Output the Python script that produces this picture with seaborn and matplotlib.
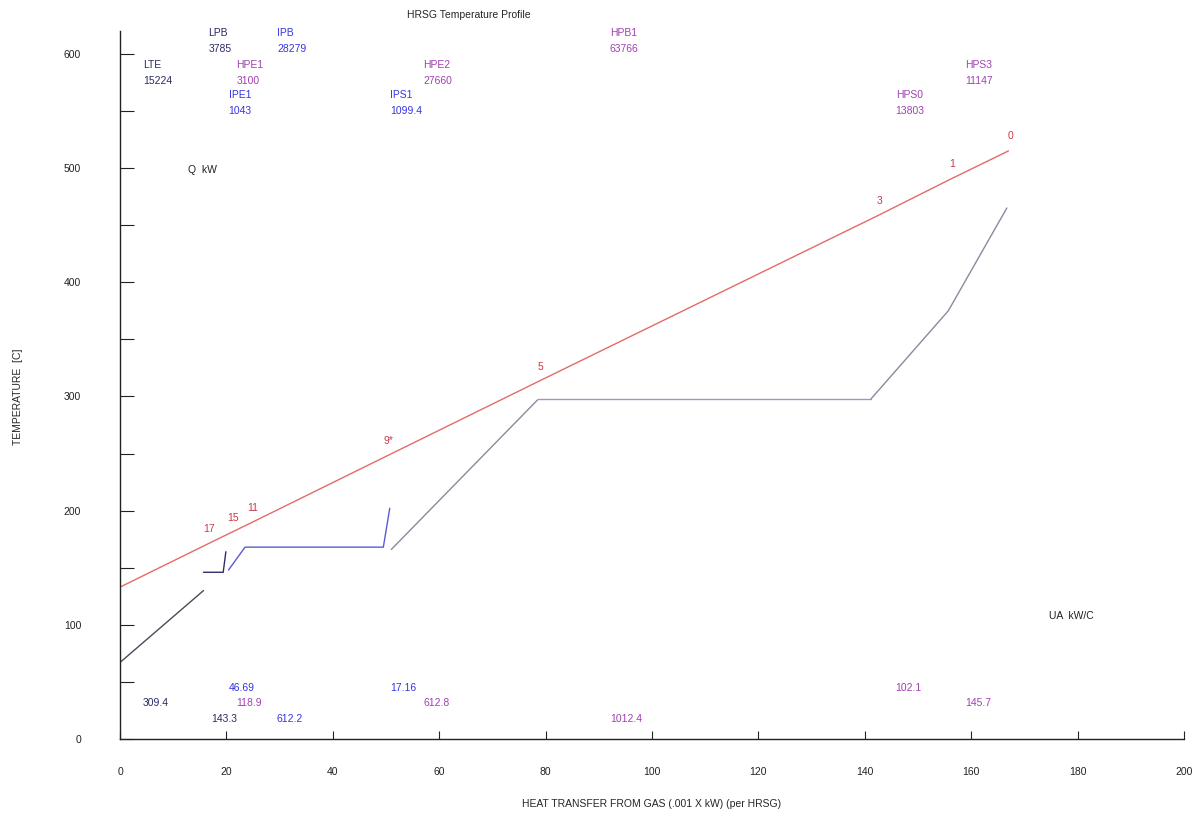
import matplotlib
matplotlib.use("Agg")
import matplotlib.pyplot as plt
import seaborn as sns
import numpy as np
import pandas as pd

# ---------------- data ----------------
# gas cooling line (x = heat transferred .001 kW, T in C)
gas_x = [0.0, 16.4, 20.8, 24.5, 50.0, 78.6, 142.3, 156.0, 167.0]
gas_t = [133, 170.6, 180.6, 189, 247.5, 313, 458, 490, 515]
gas_labels = ["", "17", "15", "11", "9*", "5", "3", "1", "0"]

# water / steam segments
lte_x = [0.0, 15.7]
lte_t = [67, 130]
lpb_x = [15.7, 19.4, 19.9]
lpb_t = [146, 146, 164]
ip_x = [20.4, 23.5, 49.5, 50.7]
ip_t = [148, 168, 168, 202]
hpe_x = [51.0, 78.5]
hpe_t = [166, 297]
hpb_x = [78.5, 141.2]
hpb_t = [298, 298]
hps_x = [141.2, 155.7, 166.7]
hps_t = [298, 375, 465]

# section annotations
sec_names = ["LTE", "LPB", "HPE1", "IPE1", "IPB", "IPS1", "HPE2", "HPB1", "HPS0", "HPS3"]
sec_q = ["15224", "3785", "3100", "1043", "28279", "1099.4", "27660", "63766", "13803", "11147"]
sec_ua = ["309.4", "143.3", "118.9", "46.69", "612.2", "17.16", "612.8", "1012.4", "102.1", "145.7"]
sec_group = ["LP", "LP", "HP", "IP", "IP", "IP", "HP", "HP", "HP", "HP"]
sec_row = [1, 0, 1, 2, 0, 2, 1, 0, 2, 1]
sec_xpos = [4.3, 16.6, 21.9, 20.4, 29.6, 50.8, 57.0, 92.1, 145.8, 158.9]
ua_xpos = [4.2, 17.2, 21.9, 20.4, 29.4, 50.8, 57.0, 92.1, 145.8, 158.9]

x_ticks = [0, 20, 40, 60, 80, 100, 120, 140, 160, 180, 200]
y_ticks = [0, 100, 200, 300, 400, 500, 600]

# ---------------- style ----------------
sns.set_style("ticks")
plt.rcParams["font.family"] = ["Liberation Sans", "DejaVu Sans"]

fig = plt.figure(figsize=(11.96, 8.19), dpi=100)
ax = fig.add_axes([120 / 1196, 1 - 739 / 819, (1184 - 120) / 1196, (739 - 31) / 819])

FS = 7.5
colors = {"LP": "#2a2a66", "IP": "#3535e0", "HP": "#a040b0"}

gas_df = pd.DataFrame({"x": gas_x, "t": gas_t})
sns.lineplot(data=gas_df, x="x", y="t", sort=False, estimator=None, color="#e46a6a", lw=1.0, ax=ax)

segs = [
    (lte_x, lte_t, "#4a4a5a"),
    (lpb_x, lpb_t, "#2e2e66"),
    (ip_x, ip_t, "#5a5ad8"),
    (hpe_x, hpe_t, "#8a8a9e"),
    (hpb_x, hpb_t, "#b48cc4"),
    (hps_x, hps_t, "#8a8a9e"),
]
for sx, st, c in segs:
    sns.lineplot(x=sx, y=st, sort=False, estimator=None, color=c, lw=1.0, ax=ax)

for gx, gt, lab in zip(gas_x, gas_t, gas_labels):
    if lab:
        ax.annotate(lab, (gx, gt), xytext=(2, 15), textcoords="offset pixels",
                    ha="center", va="center", fontsize=FS, color="#c83848")

# section labels: top (name + Q) and bottom (UA)
px_per_t = (739 - 31) / 620.0
top_rows_px = [33, 65, 95]
bot_rows_px = [719, 703, 688]
for name, q, ua, g, r, xp, xu in zip(sec_names, sec_q, sec_ua, sec_group, sec_row, sec_xpos, ua_xpos):
    c = colors[g]
    y1 = (739 - top_rows_px[r]) / px_per_t
    y2 = (739 - top_rows_px[r] - 16) / px_per_t
    ax.text(xp, y1, name, fontsize=FS, color=c, ha="left", va="center")
    ax.text(xp, y2, q, fontsize=FS, color=c, ha="left", va="center")
    yu = (739 - bot_rows_px[r]) / px_per_t
    ax.text(xu, yu, ua, fontsize=FS, color=c, ha="left", va="center")

ax.text(12.8, 498, "Q  kW", fontsize=FS, color="#222222", ha="left", va="center")
ax.text(174.6, 107.5, "UA  kW/C", fontsize=FS, color="#222222", ha="left", va="center")

ax.set_xlim(0, 200)
ax.set_ylim(0, 620)
ax.set_xticks(x_ticks)
ax.set_yticks(y_ticks)
ax.set_yticks([50, 150, 250, 350, 450, 550], minor=True)
ax.tick_params(axis="both", which="both", direction="in", labelsize=FS, colors="#222222")
ax.tick_params(axis="y", which="both", length=10, width=0.8, pad=28)
ax.tick_params(axis="x", which="major", length=6, width=0.8, pad=20)
for s in ["top", "right"]:
    ax.spines[s].set_visible(False)
for s in ["left", "bottom"]:
    ax.spines[s].set_linewidth(1.0)
    ax.spines[s].set_color("#222222")

ax.set_xlabel("HEAT TRANSFER FROM GAS (.001 X kW) (per HRSG)", fontsize=FS, labelpad=16)
ax.set_ylabel("")
fig.text(18 / 1196, 1 - 397 / 819, "TEMPERATURE  [C]", fontsize=FS, rotation=90,
         ha="center", va="center")
fig.text(469 / 1196, 1 - 15 / 819, "HRSG Temperature Profile", fontsize=FS, ha="center", va="center")

fig.savefig("out.png", dpi=100)
